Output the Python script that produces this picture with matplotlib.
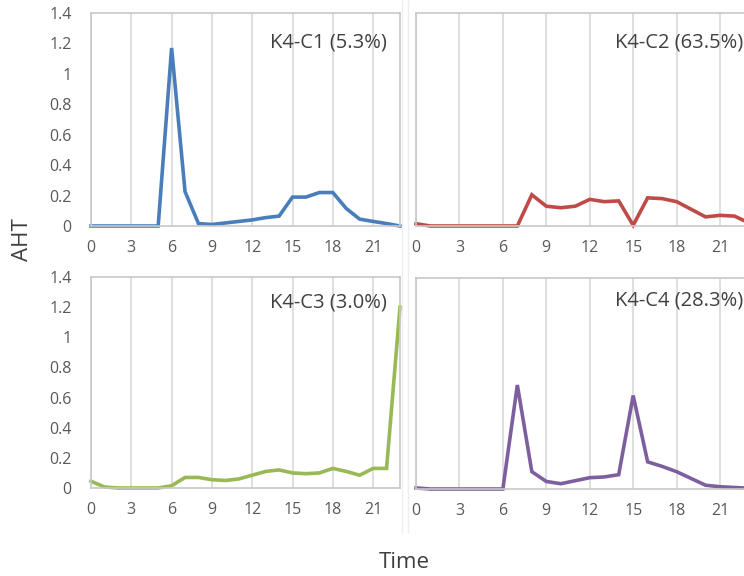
import numpy as np
import matplotlib
matplotlib.use('Agg')
import matplotlib.pyplot as plt
from matplotlib.lines import Line2D

plt.rcParams['font.family'] = ['Open Sans', 'DejaVu Sans']

############### data
hours = list(range(24))
c1 = [0, 0, 0, 0, 0, 0, 1.17, 0.226, 0.016, 0.01, 0.02, 0.03,
      0.04, 0.055, 0.065, 0.19, 0.19, 0.22, 0.22, 0.115, 0.045, 0.03, 0.016, 0]
c2 = [0.015, 0, 0, 0, 0, 0, 0, 0, 0.205, 0.13, 0.12, 0.13,
      0.175, 0.16, 0.165, 0.005, 0.185, 0.18, 0.16, 0.11, 0.06, 0.07, 0.065, 0.02]
c3 = [0.045, 0.007, 0, 0, 0, 0, 0.015, 0.07, 0.07, 0.055, 0.05, 0.06,
      0.085, 0.11, 0.12, 0.1, 0.095, 0.1, 0.13, 0.11, 0.085, 0.13, 0.13, 1.2]
c4 = [0.007, 0, 0, 0, 0, 0, 0, 0.69, 0.115, 0.05, 0.035, 0.055,
      0.075, 0.08, 0.095, 0.62, 0.18, 0.15, 0.115, 0.07, 0.025, 0.015, 0.01, 0.005]
labels = ['K4-C1 (5.3%)', 'K4-C2 (63.5%)', 'K4-C3 (3.0%)', 'K4-C4 (28.3%)']
colors = ['#4A7EBB', '#BE4B48', '#98B954', '#7D5FA0']
xticks = [0, 3, 6, 9, 12, 15, 18, 21]
yticks = [0, 0.2, 0.4, 0.6, 0.8, 1, 1.2, 1.4]
yticklabels = ['0', '0.2', '0.4', '0.6', '0.8', '1', '1.2', '1.4']

W, H = 744, 576
fig = plt.figure(figsize=(W / 100, H / 100), dpi=100)

# pixel boxes (left, right, top, bottom)
boxes = [(91, 400, 13, 226), (416, 749, 13, 226),
         (91, 400, 277, 488), (416, 749, 278, 489)]
series = [c1, c2, c3, c4]
label_pos = [(0.958, 0.86), (0.982, 0.86), (0.958, 0.88), (0.982, 0.895)]

for i, (l, r, t, b) in enumerate(boxes):
    ax = fig.add_axes([l / W, 1 - b / H, (r - l) / W, (b - t) / H])
    ax.plot(hours, series[i], color=colors[i], lw=2.6, solid_joinstyle='miter', clip_on=False)
    ax.set_xlim(0, 23)
    ax.set_ylim(0, 1.4)
    ax.set_xticks(xticks)
    ax.set_yticks(yticks)
    if i % 2 == 0:
        ax.set_yticklabels(yticklabels)
    else:
        ax.set_yticklabels([])
    ax.tick_params(length=0, labelsize=11.5, colors='#595959', pad=10)
    ax.tick_params(axis='y', pad=14)
    ax.grid(axis='x', color='#D9D9D9', lw=1.2)
    for s in ax.spines.values():
        s.set_color('#C8C8C8')
        s.set_linewidth(1.2)
    ax.set_axisbelow(True)
    ax.text(label_pos[i][0], label_pos[i][1], labels[i], transform=ax.transAxes,
            ha='right', va='center', fontsize=14.5, color='#404040')

# faint chart-area borders
for x in [402, 408]:
    fig.add_artist(Line2D([x / W, x / W], [1 - 532 / H, 1], color='#EFEFEF', lw=1))

fig.text(22 / W, 1 - 240 / H, 'AHT', rotation=90, ha='center', va='center',
         fontsize=16, color='#404040')
fig.text(404 / W, 1 - 563 / H, 'Time', ha='center', va='center',
         fontsize=16, color='#404040')

fig.savefig('out.png', dpi=100)
